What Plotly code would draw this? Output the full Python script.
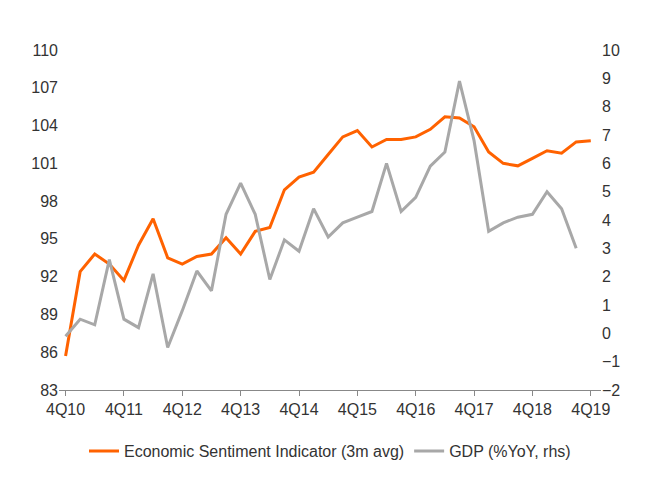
import plotly.graph_objects as go

quarters = [f"{q}Q{y}" for y in range(10, 20) for q in range(1, 5)][3:]  # 4Q10..4Q19
esi = [85.7, 92.4, 93.8, 93.0, 91.7, 94.5, 96.6, 93.5, 93.0, 93.6, 93.8, 95.1, 93.8, 95.6,
       95.9, 98.9, 99.9, 100.3, 101.7, 103.1, 103.6, 102.3, 102.9, 102.9, 103.1, 103.7,
       104.7, 104.6, 103.9, 101.9, 101.0, 100.8, 101.4, 102.0, 101.8, 102.7, 102.8]
gdp = [-0.1, 0.5, 0.3, 2.6, 0.5, 0.2, 2.1, -0.5, 0.8, 2.2, 1.5, 4.2, 5.3, 4.2, 1.9, 3.3,
       2.9, 4.4, 3.4, 3.9, 4.1, 4.3, 6.0, 4.3, 4.8, 5.9, 6.4, 8.9, 6.8, 3.6, 3.9, 4.1,
       4.2, 5.0, 4.4, 3.0]
left_ticks = list(range(83, 111, 3))
right_ticks = list(range(-2, 11))
label_quarters = ["4Q10", "4Q11", "4Q12", "4Q13", "4Q14", "4Q15", "4Q16", "4Q17", "4Q18", "4Q19"]

xi = list(range(len(quarters)))
fig = go.Figure()
fig.add_trace(go.Scatter(x=xi, y=esi, mode="lines", name="Economic Sentiment Indicator (3m avg)",
                         line=dict(color="#FF6200", width=3)))
fig.add_trace(go.Scatter(x=xi[:len(gdp)], y=gdp, mode="lines", name="GDP (%YoY, rhs)", yaxis="y2",
                         line=dict(color="#A8A8A8", width=3)))
fig.update_layout(
    width=662, height=496, plot_bgcolor="white", paper_bgcolor="white",
    margin=dict(l=51, r=69, t=42, b=114),
    font=dict(family="Liberation Sans, Arial", size=16, color="#333333"),
    xaxis=dict(range=[-0.45, 36.7], tickvals=[quarters.index(q) for q in label_quarters],
               ticktext=label_quarters, showgrid=False, showline=True, linecolor="#888888",
               ticks="outside", ticklen=5, tickcolor="#888888", zeroline=False),
    yaxis=dict(range=[83, 110], tickvals=left_ticks, showgrid=False, zeroline=False,
               showline=False),
    yaxis2=dict(range=[-2, 10], tickvals=right_ticks, overlaying="y", side="right",
                showgrid=False, zeroline=False, showline=False),
    legend=dict(orientation="h", x=0.5, xanchor="center", y=-0.13, yanchor="top",
                font=dict(size=16)),
    showlegend=True,
)
fig.write_html("out.html")
